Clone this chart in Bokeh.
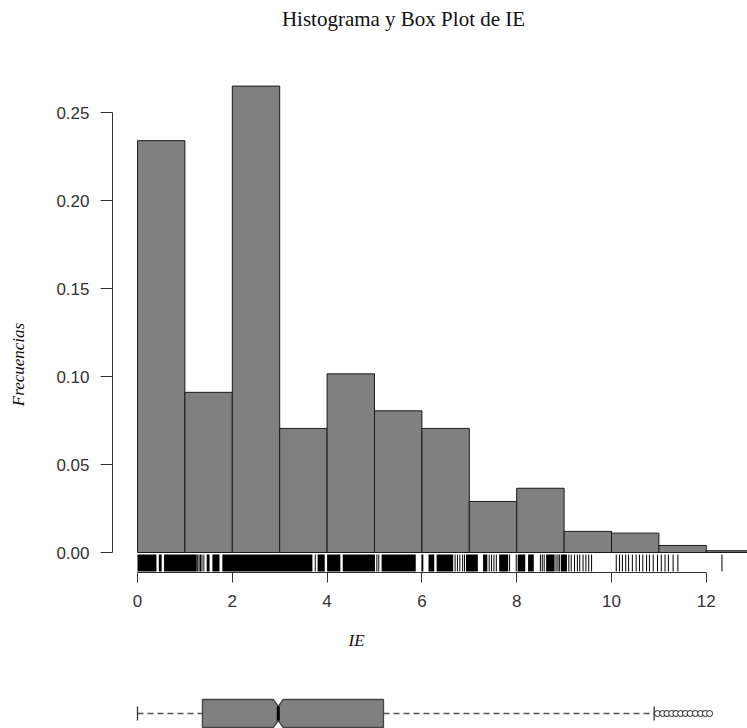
import numpy as np
from bokeh.plotting import figure
from bokeh.models import Range1d, FixedTicker, Label
from bokeh.layouts import column
from bokeh.embed import file_html
from bokeh.resources import INLINE

# ---------------- data ----------------
bin_left = [0, 1, 2, 3, 4, 5, 6, 7, 8, 9, 10, 11, 12]
bin_right = [1, 2, 3, 4, 5, 6, 7, 8, 9, 10, 11, 12, 13]
density = [0.234, 0.091, 0.265, 0.0705, 0.1015, 0.0805, 0.0705,
           0.029, 0.0365, 0.012, 0.011, 0.004, 0.001]

# rug: solid (overlapping) tick runs and isolated ticks
rug_run_start = [0.00, 0.45, 0.56, 1.39, 1.46, 1.58, 1.79, 3.74, 3.80, 4.00,
                 4.33, 5.15, 5.99, 6.14, 6.31, 6.93, 7.29, 7.63, 8.02, 8.24,
                 8.62, 8.93]
rug_run_end = [0.40, 0.51, 1.25, 1.41, 1.52, 1.73, 3.69, 3.76, 3.95, 4.28,
               5.01, 5.87, 6.03, 6.26, 6.66, 7.18, 7.38, 7.82, 8.18, 8.36,
               8.80, 9.06]
rug_ticks = [1.27, 1.30, 1.33, 1.36, 5.05, 5.09, 6.70, 6.75, 6.80, 6.86, 6.90,
             7.42, 7.47, 7.52, 7.57, 7.85, 7.99, 8.50, 8.54, 8.58, 8.83, 8.87,
             8.90, 9.10, 9.15, 9.22, 9.28, 9.33, 9.40, 9.46, 9.52, 9.58,
             10.10, 10.17, 10.23, 10.30, 10.36, 10.44, 10.52, 10.59, 10.66,
             10.74, 10.80, 10.88, 10.97, 11.05, 11.13, 11.20, 11.30, 11.40,
             12.33]

box_low = 0.0
box_q1 = 1.37
box_median = 2.97
box_q3 = 5.19
box_high = 10.9
box_notch = 0.105
box_outliers = [10.97, 11.08, 11.17, 11.27, 11.36, 11.46, 11.56, 11.66,
                11.77, 11.88, 11.98, 12.07]

x_ticks = [0, 2, 4, 6, 8, 10, 12]
y_ticks = [0.0, 0.05, 0.10, 0.15, 0.20, 0.25]
y_tick_labels = ["0.00", "0.05", "0.10", "0.15", "0.20", "0.25"]

title_text = "Histograma y Box Plot de IE"
ylab_text = "Frecuencias"
xlab_text = "IE"

# ---------------- layout (page pixels) ----------------
W = 747
H1 = 668
H2 = 60
PXX = 47.4          # px per x unit
X0 = 137.0          # px of x=0
PXY = 1760.0        # px per y unit
Y0 = 552.0          # px (from top) of y=0


def ydat(py):
    return (Y0 - py) / PXY


def xdat(px):
    return (px - X0) / PXX


p = figure(width=W, height=H1, x_range=Range1d(xdat(0), xdat(W)),
           y_range=Range1d(ydat(H1), ydat(0)),
           min_border_left=0, min_border_right=0, min_border_top=0,
           min_border_bottom=0,
           toolbar_location=None, output_backend="svg")
p.outline_line_color = None
p.grid.visible = False
p.background_fill_color = "white"
p.border_fill_color = "white"

# histogram bars (clipped at x=747 by the frame, as in the original)
p.quad(left=bin_left, right=bin_right, bottom=0, top=density,
       fill_color="#808080", line_color="#1a1a1a", line_width=1)

rug_top = ydat(554)
rug_bot = ydat(571)
p.quad(left=rug_run_start, right=rug_run_end, bottom=rug_bot, top=rug_top,
       fill_color="black", line_color=None)
p.segment(x0=rug_ticks, y0=rug_top, x1=rug_ticks, y1=rug_bot,
          line_color="black", line_width=1)

ax = p.xaxis[0]
ax.fixed_location = ydat(572)
ax.ticker = FixedTicker(ticks=x_ticks)
ax.bounds = (min(x_ticks), max(x_ticks))
ax.major_tick_out = 10
ax.major_tick_in = 0
ax.minor_tick_line_color = None
ax.axis_line_color = "#333333"
ax.major_tick_line_color = "#333333"
ax.major_label_text_font = "Liberation Sans"
ax.major_label_text_font_size = "17px"
ax.major_label_text_color = "#333333"
ax.major_label_standoff = 12

ay = p.yaxis[0]
ay.fixed_location = xdat(112)
ay.ticker = FixedTicker(ticks=y_ticks)
ay.major_label_overrides = {t: l for t, l in zip(y_ticks, y_tick_labels)}
ay.bounds = (min(y_ticks), max(y_ticks))
ay.major_tick_out = 12
ay.major_tick_in = 0
ay.minor_tick_line_color = None
ay.axis_line_color = "#333333"
ay.major_tick_line_color = "#333333"
ay.major_label_text_font = "Liberation Sans"
ay.major_label_text_font_size = "17px"
ay.major_label_text_color = "#333333"
ay.major_label_standoff = 11

p.add_layout(Label(x=xdat(403), y=ydat(18), text=title_text,
                   text_font="Liberation Serif", text_font_size="21px",
                   text_align="center", text_baseline="middle",
                   text_color="#111111"))
p.add_layout(Label(x=xdat(18), y=ydat(364), text=ylab_text, angle=np.pi / 2,
                   text_font="Liberation Serif", text_font_size="17px",
                   text_font_style="italic",
                   text_align="center", text_baseline="middle",
                   text_color="#111111"))
p.add_layout(Label(x=xdat(356), y=ydat(640), text=xlab_text,
                   text_font="Liberation Serif", text_font_size="17px",
                   text_font_style="italic",
                   text_align="center", text_baseline="middle",
                   text_color="#111111"))

# ---------------- box plot ----------------
p2 = figure(width=W, height=H2, x_range=p.x_range, y_range=Range1d(-15, 45),
            min_border_left=0, min_border_right=0, min_border_top=0,
            min_border_bottom=0, x_axis_location=None, y_axis_location=None,
            toolbar_location=None, output_backend="svg")
p2.outline_line_color = None
p2.grid.visible = False

hh = 14
m, n = box_median, box_notch
bx = [box_q1, box_q1, m - n, m, m + n, box_q3, box_q3, m + n, m, m - n]
by = [-hh, hh, hh, hh * 0.5, hh, hh, -hh, -hh, -hh * 0.5, -hh]
p2.segment(x0=[box_low, box_q3], y0=[0, 0], x1=[box_q1, box_high], y1=[0, 0],
           line_color="#555555", line_width=1.3, line_dash="6 4")
p2.segment(x0=[box_low, box_high], y0=[-7, -7], x1=[box_low, box_high],
           y1=[7, 7], line_color="#333333", line_width=1.3)
p2.patch(bx, by, fill_color="#808080", line_color="#444444", line_width=1.3)
p2.segment(x0=[m], y0=[-hh * 0.5], x1=[m], y1=[hh * 0.5],
           line_color="black", line_width=3)
p2.scatter(x=box_outliers, y=[0] * len(box_outliers), marker="circle",
           size=6, fill_color="white", line_color="#222222", line_width=1)

layout = column(p, p2, spacing=0)
open("out.html", "w").write(file_html(layout, INLINE))
